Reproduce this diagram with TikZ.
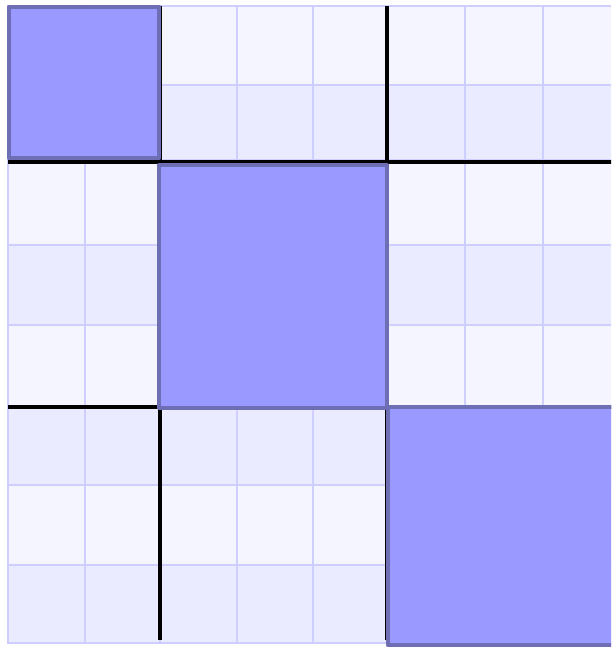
\documentclass[tikz,border=0pt]{standalone}
\definecolor{cellA}{HTML}{F5F5FF}
\definecolor{cellB}{HTML}{EBEBFF}
\definecolor{gridc}{HTML}{CFCFFF}
\definecolor{blockfill}{HTML}{9999FF}
\definecolor{blockline}{HTML}{6E6EB4}
\tikzset{
  gridline/.style={draw=gridc,line width=2.2pt},
  sepline/.style={draw=black,line width=4pt},
  diagblock/.style={fill=blockfill,draw=blockline,line width=4.5pt,line join=round}
}
\begin{document}
\begin{tikzpicture}[x=1pt,y=-1pt]
\useasboundingbox (0,0) rectangle (611,647);
\clip (0,0) rectangle (611,647);
% row bands
\foreach \ya/\yb/\c in {6/85/cellA,85/160/cellB,160/245/cellA,245/325/cellB,325/407/cellA,407/485/cellB,485/565/cellA,565/643/cellB}
  \fill[\c] (8,\ya) rectangle (625,\yb);
% grid lines
\foreach \x in {8,85,160,237,313,387,465,543}
  \draw[gridline] (\x,5) -- (\x,644);
\foreach \y in {6,85,160,245,325,407,485,565,643}
  \draw[gridline] (7,\y) -- (625,\y);
% block separators
\draw[sepline] (160,6) -- (160,640);
\draw[sepline] (386.5,6) -- (386.5,640);
\draw[sepline] (8,162) -- (625,162);
\draw[sepline] (8,407) -- (625,407);
% diagonal blocks
\draw[diagblock] (9,7) rectangle (159,158);
\draw[diagblock] (159,165) rectangle (387,408);
\draw[diagblock] (388,407) rectangle (630,645);
\end{tikzpicture}
\end{document}
